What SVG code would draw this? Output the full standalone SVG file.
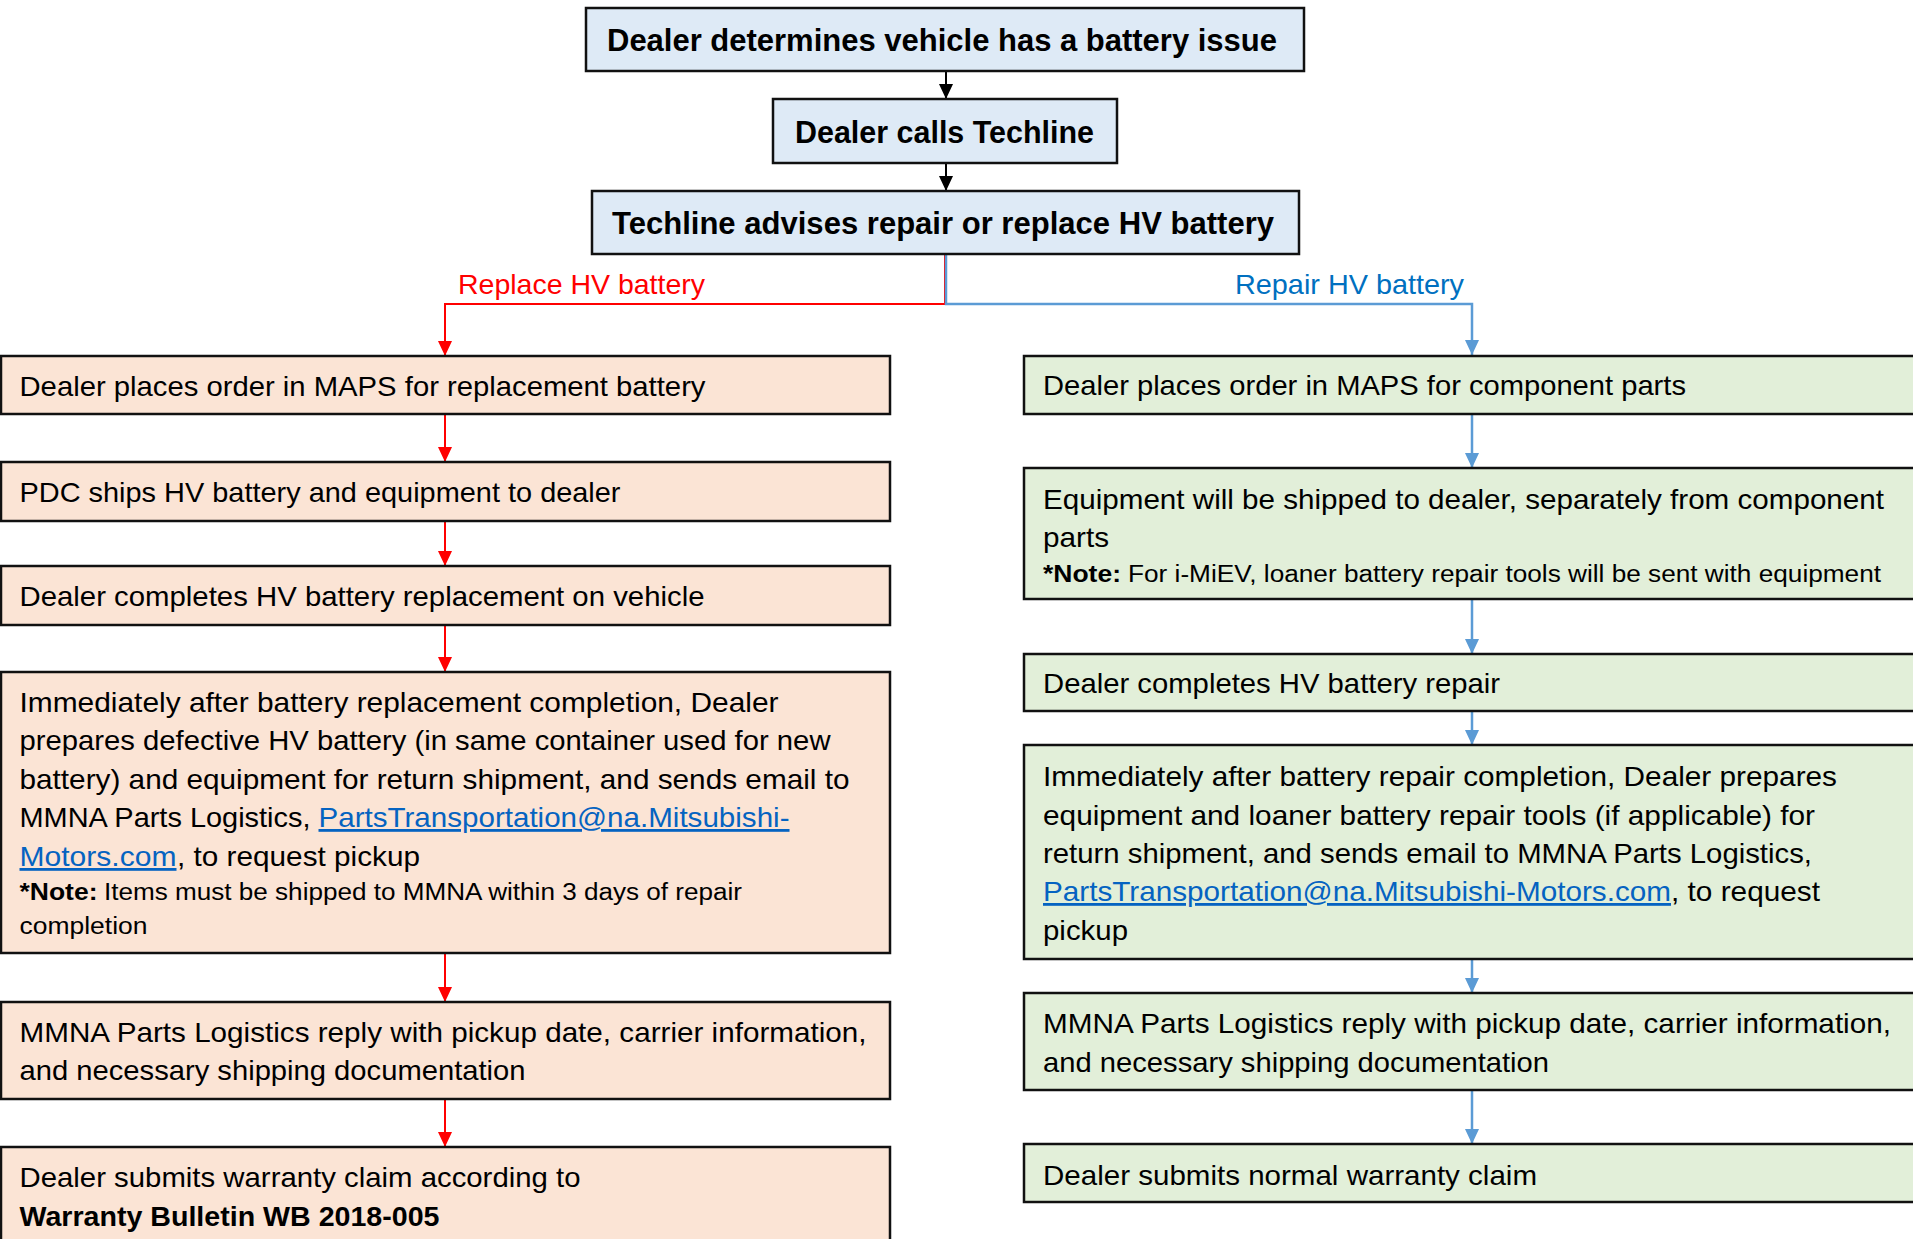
<svg xmlns="http://www.w3.org/2000/svg" width="1913" height="1239" viewBox="0 0 1913 1239">
<defs>
<style>
.t{font-family:"Liberation Sans",Arial,sans-serif;font-size:28px;fill:#000}
.h{font-family:"Liberation Sans",Arial,sans-serif;font-size:31px;font-weight:bold;fill:#000}
.n{font-family:"Liberation Sans",Arial,sans-serif;font-size:23.5px;fill:#000}
.b{font-weight:bold}
.lk{fill:#0563c1;text-decoration:underline}
.top{fill:#deeaf6;stroke:#111;stroke-width:2.5}
.pe{fill:#fbe4d5;stroke:#111;stroke-width:2.5}
.gr{fill:#e2efd9;stroke:#111;stroke-width:2.5}
.ck{fill:none;stroke:#000;stroke-width:2}
.cr{fill:none;stroke:#ff0000;stroke-width:2}
.cb{fill:none;stroke:#5b9bd5;stroke-width:2.5}
</style>
<marker id="ak" viewBox="0 0 15 14" refX="15" refY="7" markerWidth="15" markerHeight="14" markerUnits="userSpaceOnUse" orient="auto"><path d="M0,0 L15,7 L0,14 z" fill="#000"/></marker>
<marker id="ar" viewBox="0 0 15 14" refX="15" refY="7" markerWidth="15" markerHeight="14" markerUnits="userSpaceOnUse" orient="auto"><path d="M0,0 L15,7 L0,14 z" fill="#ff0000"/></marker>
<marker id="ab" viewBox="0 0 15 14" refX="15" refY="7" markerWidth="15" markerHeight="14" markerUnits="userSpaceOnUse" orient="auto"><path d="M0,0 L15,7 L0,14 z" fill="#5b9bd5"/></marker>
</defs>
<rect width="1913" height="1239" fill="#fff"/>

<g id="connectors">
<path class="ck" d="M946,71 V99" marker-end="url(#ak)"/>
<path class="ck" d="M946,163 V191" marker-end="url(#ak)"/>
<path class="cr" d="M945,254 V304 H445 V356" marker-end="url(#ar)"/>
<path class="cb" d="M946,254 V304 H1472 V355" marker-end="url(#ab)"/>
<path class="cr" d="M445,414 V462" marker-end="url(#ar)"/>
<path class="cr" d="M445,521 V566" marker-end="url(#ar)"/>
<path class="cr" d="M445,625 V672" marker-end="url(#ar)"/>
<path class="cr" d="M445,953 V1002" marker-end="url(#ar)"/>
<path class="cr" d="M445,1099 V1147" marker-end="url(#ar)"/>
<path class="cb" d="M1472,414 V468" marker-end="url(#ab)"/>
<path class="cb" d="M1472,599 V654" marker-end="url(#ab)"/>
<path class="cb" d="M1472,711 V745" marker-end="url(#ab)"/>
<path class="cb" d="M1472,959 V993" marker-end="url(#ab)"/>
<path class="cb" d="M1472,1090 V1144" marker-end="url(#ab)"/>
<text class="t" x="458" y="294" style="fill:#ff0000" textLength="247" lengthAdjust="spacingAndGlyphs">Replace HV battery</text>
<text class="t" x="1235" y="294" style="fill:#0070c0" textLength="229" lengthAdjust="spacingAndGlyphs">Repair HV battery</text>
</g>

<g id="n1">
<rect class="top" x="586" y="8" width="718" height="63"/>
<text class="h" x="607" y="51" textLength="670" lengthAdjust="spacingAndGlyphs">Dealer determines vehicle has a battery issue</text>
</g>
<g id="n2">
<rect class="top" x="773" y="99" width="344" height="64"/>
<text class="h" x="795" y="143" textLength="299" lengthAdjust="spacingAndGlyphs">Dealer calls Techline</text>
</g>
<g id="n3">
<rect class="top" x="592" y="191" width="707" height="63"/>
<text class="h" x="612" y="234" textLength="662" lengthAdjust="spacingAndGlyphs">Techline advises repair or replace HV battery</text>
</g>

<g id="l1">
<rect class="pe" x="1" y="356" width="889" height="58"/>
<text class="t" x="19.5" y="396" textLength="686" lengthAdjust="spacingAndGlyphs">Dealer places order in MAPS for replacement battery</text>
</g>
<g id="l2">
<rect class="pe" x="1" y="462" width="889" height="59"/>
<text class="t" x="19.5" y="502" textLength="601" lengthAdjust="spacingAndGlyphs">PDC ships HV battery and equipment to dealer</text>
</g>
<g id="l3">
<rect class="pe" x="1" y="566" width="889" height="59"/>
<text class="t" x="19.5" y="606" textLength="685" lengthAdjust="spacingAndGlyphs">Dealer completes HV battery replacement on vehicle</text>
</g>
<g id="l4">
<rect class="pe" x="1" y="672" width="889" height="281"/>
<text class="t" x="19.5" y="712" textLength="759" lengthAdjust="spacingAndGlyphs">Immediately after battery replacement completion, Dealer</text>
<text class="t" x="19.5" y="750" textLength="811" lengthAdjust="spacingAndGlyphs">prepares defective HV battery (in same container used for new</text>
<text class="t" x="19.5" y="789" textLength="830" lengthAdjust="spacingAndGlyphs">battery) and equipment for return shipment, and sends email to</text>
<text class="t" x="19.5" y="827" textLength="291" lengthAdjust="spacingAndGlyphs">MMNA Parts Logistics,</text>
<text class="t lk" x="318.5" y="827" textLength="471" lengthAdjust="spacingAndGlyphs">PartsTransportation@na.Mitsubishi-</text>
<text class="t lk" x="19.5" y="866" textLength="157" lengthAdjust="spacingAndGlyphs">Motors.com</text>
<text class="t" x="177" y="866" textLength="243" lengthAdjust="spacingAndGlyphs">, to request pickup</text>
<text class="n b" x="19.5" y="900" textLength="78" lengthAdjust="spacingAndGlyphs">*Note:</text>
<text class="n" x="104" y="900" textLength="638" lengthAdjust="spacingAndGlyphs">Items must be shipped to MMNA within 3 days of repair</text>
<text class="n" x="19.5" y="934" textLength="128" lengthAdjust="spacingAndGlyphs">completion</text>
</g>
<g id="l5">
<rect class="pe" x="1" y="1002" width="889" height="97"/>
<text class="t" x="19.5" y="1042" textLength="847" lengthAdjust="spacingAndGlyphs">MMNA Parts Logistics reply with pickup date, carrier information,</text>
<text class="t" x="19.5" y="1080" textLength="506" lengthAdjust="spacingAndGlyphs">and necessary shipping documentation</text>
</g>
<g id="l6">
<rect class="pe" x="1" y="1147" width="889" height="110"/>
<text class="t" x="19.5" y="1187" textLength="561" lengthAdjust="spacingAndGlyphs">Dealer submits warranty claim according to</text>
<text class="t b" x="19.5" y="1226" textLength="420" lengthAdjust="spacingAndGlyphs">Warranty Bulletin WB 2018-005</text>
</g>

<g id="r1">
<rect class="gr" x="1024" y="356" width="900" height="58"/>
<text class="t" x="1043" y="395" textLength="643" lengthAdjust="spacingAndGlyphs">Dealer places order in MAPS for component parts</text>
</g>
<g id="r2">
<rect class="gr" x="1024" y="468" width="900" height="131"/>
<text class="t" x="1043" y="509" textLength="841" lengthAdjust="spacingAndGlyphs">Equipment will be shipped to dealer, separately from component</text>
<text class="t" x="1043" y="547" textLength="66" lengthAdjust="spacingAndGlyphs">parts</text>
<text class="n b" x="1043" y="582" textLength="78" lengthAdjust="spacingAndGlyphs">*Note:</text>
<text class="n" x="1128" y="582" textLength="753" lengthAdjust="spacingAndGlyphs">For i-MiEV, loaner battery repair tools will be sent with equipment</text>
</g>
<g id="r3">
<rect class="gr" x="1024" y="654" width="900" height="57"/>
<text class="t" x="1043" y="693" textLength="457" lengthAdjust="spacingAndGlyphs">Dealer completes HV battery repair</text>
</g>
<g id="r4">
<rect class="gr" x="1024" y="745" width="900" height="214"/>
<text class="t" x="1043" y="786" textLength="794" lengthAdjust="spacingAndGlyphs">Immediately after battery repair completion, Dealer prepares</text>
<text class="t" x="1043" y="825" textLength="772" lengthAdjust="spacingAndGlyphs">equipment and loaner battery repair tools (if applicable) for</text>
<text class="t" x="1043" y="863" textLength="769" lengthAdjust="spacingAndGlyphs">return shipment, and sends email to MMNA Parts Logistics,</text>
<text class="t lk" x="1043" y="901" textLength="628" lengthAdjust="spacingAndGlyphs">PartsTransportation@na.Mitsubishi-Motors.com</text>
<text class="t" x="1671" y="901" textLength="149" lengthAdjust="spacingAndGlyphs">, to request</text>
<text class="t" x="1043" y="940" textLength="85" lengthAdjust="spacingAndGlyphs">pickup</text>
</g>
<g id="r5">
<rect class="gr" x="1024" y="993" width="900" height="97"/>
<text class="t" x="1043" y="1033" textLength="848" lengthAdjust="spacingAndGlyphs">MMNA Parts Logistics reply with pickup date, carrier information,</text>
<text class="t" x="1043" y="1072" textLength="506" lengthAdjust="spacingAndGlyphs">and necessary shipping documentation</text>
</g>
<g id="r6">
<rect class="gr" x="1024" y="1144" width="900" height="58"/>
<text class="t" x="1043" y="1185" textLength="494" lengthAdjust="spacingAndGlyphs">Dealer submits normal warranty claim</text>
</g>
</svg>
